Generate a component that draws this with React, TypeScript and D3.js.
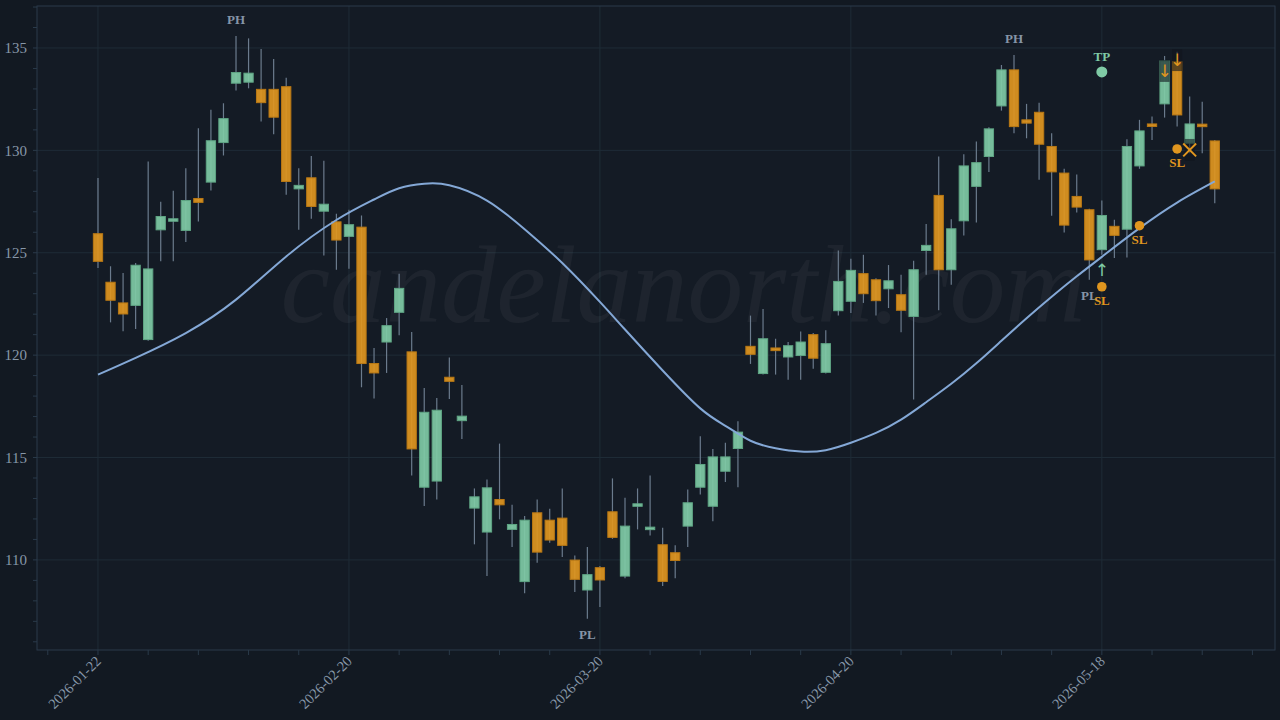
import React, { useEffect, useRef } from 'react';
import * as d3 from 'd3';

// candle data, one entry per trading day (index 0 = 2026-01-22)
const opens = [
  125.93, 123.56, 122.55, 122.43, 120.76, 126.12, 126.58, 126.09, 127.65, 128.45,
  130.38, 133.28, 133.33, 132.98, 132.98, 133.11, 128.12, 128.66, 127.03, 126.51,
  125.8, 126.25, 119.59, 120.64, 122.09, 120.16, 113.55, 113.85, 118.92, 116.8,
  112.53, 111.36, 112.95, 111.49, 108.94, 112.3, 111.94, 112.04, 109.99, 108.53,
  109.62, 112.35, 109.21, 112.63, 111.5, 110.74, 110.35, 111.65, 113.55, 112.62,
  114.33, 115.44, 120.43, 119.1, 120.35, 119.91, 119.98, 121.0, 119.16, 122.17,
  122.63, 123.98, 123.68, 123.24, 122.95, 121.89, 125.11, 127.8, 124.17, 126.56,
  128.24, 129.7, 132.17, 133.93, 131.49, 131.86, 130.19, 128.89, 127.75, 127.1,
  125.15, 126.29, 126.15, 129.24, 131.29, 132.27, 134.33, 130.35, 131.28, 130.46,
];
const highs = [
  128.65, 124.34, 124.01, 124.5, 129.46, 127.49, 128.03, 129.13, 131.08, 131.98,
  132.3, 135.59, 135.47, 134.95, 134.46, 133.55, 129.13, 129.73, 129.49, 126.9,
  127.1, 126.82, 120.35, 121.81, 123.98, 121.13, 118.4, 117.91, 119.89, 118.54,
  113.49, 113.93, 115.68, 112.69, 112.14, 112.95, 112.5, 113.49, 110.22, 110.63,
  109.7, 113.98, 113.03, 113.49, 114.12, 111.57, 110.71, 113.44, 116.04, 115.42,
  115.72, 116.77, 121.93, 122.25, 120.8, 120.64, 121.16, 121.08, 121.21, 125.11,
  124.71, 124.9, 123.75, 124.4, 123.93, 124.61, 126.4, 129.7, 126.64, 129.81,
  130.43, 131.13, 134.17, 134.66, 132.27, 132.33, 130.84, 129.1, 128.82, 127.15,
  127.55, 126.61, 130.54, 131.49, 131.65, 134.61, 134.82, 132.63, 132.38, 130.5,
];
const lows = [
  124.26, 121.6, 121.17, 121.28, 120.7, 124.58, 124.58, 125.52, 126.53, 128.04,
  129.75, 132.92, 133.03, 131.41, 130.79, 127.83, 126.12, 126.66, 124.87, 124.17,
  124.22, 118.43, 117.88, 119.13, 120.97, 114.12, 112.63, 112.95, 117.86, 115.91,
  110.76, 109.21, 111.98, 110.63, 108.37, 109.86, 110.84, 110.14, 108.43, 107.13,
  107.7, 111.03, 109.1, 111.49, 111.19, 108.72, 109.1, 110.63, 113.19, 111.89,
  113.8, 113.55, 119.57, 119.05, 119.05, 118.8, 118.8, 119.34, 119.1, 121.93,
  122.06, 122.55, 121.93, 122.3, 121.12, 117.83, 123.93, 122.19, 123.44, 125.84,
  126.48, 128.94, 131.94, 130.84, 130.59, 128.56, 126.81, 125.99, 126.97, 123.68,
  124.9, 124.74, 124.77, 129.1, 130.51, 131.6, 131.16, 129.86, 129.86, 127.42,
];
const closes = [
  124.58, 122.68, 122.01, 124.39, 124.21, 126.77, 126.66, 127.55, 127.46, 130.47,
  131.55, 133.8, 133.77, 132.33, 131.62, 128.48, 128.29, 127.26, 127.37, 125.62,
  126.37, 119.59, 119.13, 121.44, 123.26, 115.42, 117.21, 117.31, 118.72, 117.02,
  113.08, 113.52, 112.69, 111.73, 111.94, 110.38, 110.97, 110.71, 109.05, 109.28,
  109.02, 111.1, 111.65, 112.74, 111.6, 108.95, 109.97, 112.79, 114.66, 115.03,
  115.03, 116.24, 120.04, 120.8, 120.22, 120.46, 120.64, 119.85, 120.56, 123.6,
  124.14, 123.0, 122.66, 123.63, 122.19, 124.17, 125.36, 124.17, 126.17, 129.24,
  129.4, 131.05, 133.93, 131.16, 131.33, 130.3, 128.95, 126.35, 127.23, 124.65,
  126.82, 125.85, 130.19, 130.95, 131.18, 134.37, 131.73, 131.29, 131.21, 128.12,
];

// moving average, read at sparse candle indices
const maIdx = [0, 3, 7, 11, 15, 19, 22, 24, 26, 28, 31, 34, 37, 40, 42, 45, 48, 50, 52, 54, 56, 58, 60, 62, 64, 66, 68, 70, 72, 74, 76, 78, 80, 83, 86, 89];
const maVal = [119.05, 119.87, 121.08, 122.71, 124.82, 126.6, 127.6, 128.15, 128.37, 128.3, 127.55, 126.15, 124.5, 122.6, 121.25, 119.25, 117.4, 116.55, 115.82, 115.45, 115.29, 115.36, 115.72, 116.2, 116.85, 117.7, 118.6, 119.6, 120.7, 121.8, 122.85, 123.85, 124.8, 126.2, 127.45, 128.48];

// axis labels
const tickIdx = [0, 20, 40, 60, 80];
const tickLabels = ['2026-01-22', '2026-02-20', '2026-03-20', '2026-04-20', '2026-05-18'];

// annotations
const pivotIdx = [11, 39, 73, 79];
const pivotType = ['PH', 'PL', 'PH', 'PL'];
const tpIdx = [80];
const tpPrice = [133.83];
const slIdx = [80, 83, 86];
const slPrice = [123.34, 126.32, 130.07];
const entryIdx = [80, 85, 86];
const entryDir = ['long', 'short', 'short'];
const entryPrice = [124.17, 133.88, 134.41];
const exitIdx = [87];
const exitPrice = [130.02];

const W = 1280;
const H = 720;
const GREEN = '#7fcaa5';
const ORANGE = '#e0961f';
const SERIF = '"Liberation Serif", "Times New Roman", serif';

export default function App() {
  const svgRef = useRef<SVGSVGElement>(null);

  useEffect(() => {
    if (!svgRef.current) return;
    document.body.style.margin = '0';
    document.body.style.background = '#121922';

    const margin = { top: 6, right: 5, bottom: 70, left: 37 };
    const iw = W - margin.left - margin.right;
    const ih = H - margin.top - margin.bottom;

    const svg = d3.select(svgRef.current);
    svg.selectAll('*').remove();

    const x = d3.scaleLinear().domain([-4.86, 93.8]).range([0, iw]);
    const y = d3.scaleLinear().domain([105.6, 137.05]).range([ih, 0]);
    const bw = (x(1) - x(0)) * 0.74;

    const g = svg.append('g').attr('transform', `translate(${margin.left},${margin.top})`);

    g.append('rect').attr('width', iw).attr('height', ih).attr('fill', '#141b25');

    // grid
    g.selectAll('.hgrid')
      .data(d3.range(110, 136, 5))
      .join('line')
      .attr('x1', 0).attr('x2', iw)
      .attr('y1', d => y(d)).attr('y2', d => y(d))
      .attr('stroke', '#1f2c37').attr('stroke-width', 1);
    g.selectAll('.vgrid')
      .data(tickIdx)
      .join('line')
      .attr('x1', d => x(d)).attr('x2', d => x(d))
      .attr('y1', 0).attr('y2', ih)
      .attr('stroke', '#1f2c37').attr('stroke-width', 1);

    // watermark
    g.append('text')
      .attr('x', 683 - margin.left)
      .attr('y', 322 - margin.top)
      .attr('text-anchor', 'middle')
      .attr('font-family', SERIF)
      .attr('font-style', 'italic')
      .attr('font-size', 111)
      .attr('fill', '#ffffff')
      .attr('fill-opacity', 0.045)
      .text('candelanorth.com');

    // frame
    g.append('rect').attr('width', iw).attr('height', ih)
      .attr('fill', 'none').attr('stroke', '#2a3a4a').attr('stroke-width', 1);

    // y ticks
    const yMinor = d3.range(106, 138, 1);
    g.selectAll('.ytick')
      .data(yMinor)
      .join('line')
      .attr('x1', -4).attr('x2', 0)
      .attr('y1', d => y(d)).attr('y2', d => y(d))
      .attr('stroke', '#2a3a4a');
    g.selectAll('.ylab')
      .data(d3.range(110, 136, 5))
      .join('text')
      .attr('x', -10)
      .attr('y', d => y(d))
      .attr('dy', '0.35em')
      .attr('text-anchor', 'end')
      .attr('font-family', SERIF)
      .attr('font-size', 15)
      .attr('fill', '#8797a8')
      .text(d => d);

    // x ticks
    g.selectAll('.xtick')
      .data(d3.range(-4, 93, 4))
      .join('line')
      .attr('x1', d => x(d)).attr('x2', d => x(d))
      .attr('y1', ih).attr('y2', ih + 5)
      .attr('stroke', '#2a3a4a');
    g.selectAll('.xlab')
      .data(tickIdx)
      .join('text')
      .attr('transform', d => `translate(${x(d) + 4},${ih + 12}) rotate(-45)`)
      .attr('text-anchor', 'end')
      .attr('font-family', SERIF)
      .attr('font-size', 14.5)
      .attr('fill', '#8797a8')
      .text((d, i) => tickLabels[i]);

    // candles
    const idx = d3.range(opens.length);
    g.selectAll('.wick')
      .data(idx)
      .join('line')
      .attr('x1', i => x(i)).attr('x2', i => x(i))
      .attr('y1', i => y(highs[i])).attr('y2', i => y(lows[i]))
      .attr('stroke', '#6b7b8d').attr('stroke-width', 1.2);
    g.selectAll('.body')
      .data(idx)
      .join('rect')
      .attr('x', i => x(i) - bw / 2)
      .attr('width', bw)
      .attr('y', i => y(Math.max(opens[i], closes[i])))
      .attr('height', i => Math.max(2.5, Math.abs(y(opens[i]) - y(closes[i]))))
      .attr('fill', i => (closes[i] >= opens[i] ? GREEN : ORANGE))
      .attr('fill-opacity', 0.92)
      .attr('stroke', i => (closes[i] >= opens[i] ? '#5fa584' : '#b97814'))
      .attr('stroke-width', 1);

    // moving average
    const line = d3.line<number>()
      .x(k => x(maIdx[k]))
      .y(k => y(maVal[k]))
      .curve(d3.curveNatural);
    g.append('path')
      .datum(d3.range(maIdx.length))
      .attr('fill', 'none')
      .attr('stroke', '#84a8d6')
      .attr('stroke-width', 2)
      .attr('d', line);

    // pivot labels
    pivotIdx.forEach((p, k) => {
      const isHigh = pivotType[k] === 'PH';
      g.append('text')
        .attr('x', x(p))
        .attr('y', isHigh ? y(highs[p]) - 12 : y(lows[p]) + 20)
        .attr('text-anchor', 'middle')
        .attr('font-family', SERIF)
        .attr('font-weight', 'bold')
        .attr('font-size', 13)
        .attr('fill', '#8695a7')
        .text(pivotType[k]);
    });

    // dark label boxes behind short arrows and exit mark
    const boxes = [
      ...entryIdx.map((e, k) => ({ i: e, p: entryPrice[k], show: entryDir[k] === 'short' })),
      ...exitIdx.map((e, k) => ({ i: e, p: exitPrice[k], show: true })),
    ].filter(b => b.show);
    boxes.forEach(b => {
      g.append('rect')
        .attr('x', x(b.i) - 5)
        .attr('y', y(b.p) - 11)
        .attr('width', 10)
        .attr('height', 22)
        .attr('fill', '#10161e')
        .attr('fill-opacity', 0.6);
    });

    // entries
    entryIdx.forEach((e, k) => {
      const long = entryDir[k] === 'long';
      g.append('text')
        .attr('x', x(e))
        .attr('y', y(entryPrice[k]))
        .attr('dy', '0.35em')
        .attr('text-anchor', 'middle')
        .attr('font-family', '"DejaVu Sans", sans-serif')
        .attr('font-size', 17)
        .attr('fill', long ? GREEN : ORANGE)
        .text(long ? '↑' : '↓');
    });

    // take profit
    tpIdx.forEach((t, k) => {
      g.append('circle').attr('cx', x(t)).attr('cy', y(tpPrice[k])).attr('r', 5.5).attr('fill', GREEN);
      g.append('text')
        .attr('x', x(t)).attr('y', y(tpPrice[k]) - 11)
        .attr('text-anchor', 'middle')
        .attr('font-family', SERIF).attr('font-weight', 'bold').attr('font-size', 13)
        .attr('fill', GREEN)
        .text('TP');
    });

    // stop losses
    slIdx.forEach((s, k) => {
      g.append('circle').attr('cx', x(s)).attr('cy', y(slPrice[k])).attr('r', 4.8).attr('fill', ORANGE);
      g.append('text')
        .attr('x', x(s)).attr('y', y(slPrice[k]) + 18)
        .attr('text-anchor', 'middle')
        .attr('font-family', SERIF).attr('font-weight', 'bold').attr('font-size', 13)
        .attr('fill', ORANGE)
        .text('SL');
    });

    // exit mark
    exitIdx.forEach((e, k) => {
      g.append('path')
        .attr('transform', `translate(${x(e)},${y(exitPrice[k])})`)
        .attr('d', d3.symbol(d3.symbolTimes, 110)())
        .attr('fill', 'none')
        .attr('stroke', ORANGE)
        .attr('stroke-width', 2);
    });
  }, []);

  return <svg ref={svgRef} width={W} height={H} style={{ display: 'block', background: '#121922' }} />;
}
